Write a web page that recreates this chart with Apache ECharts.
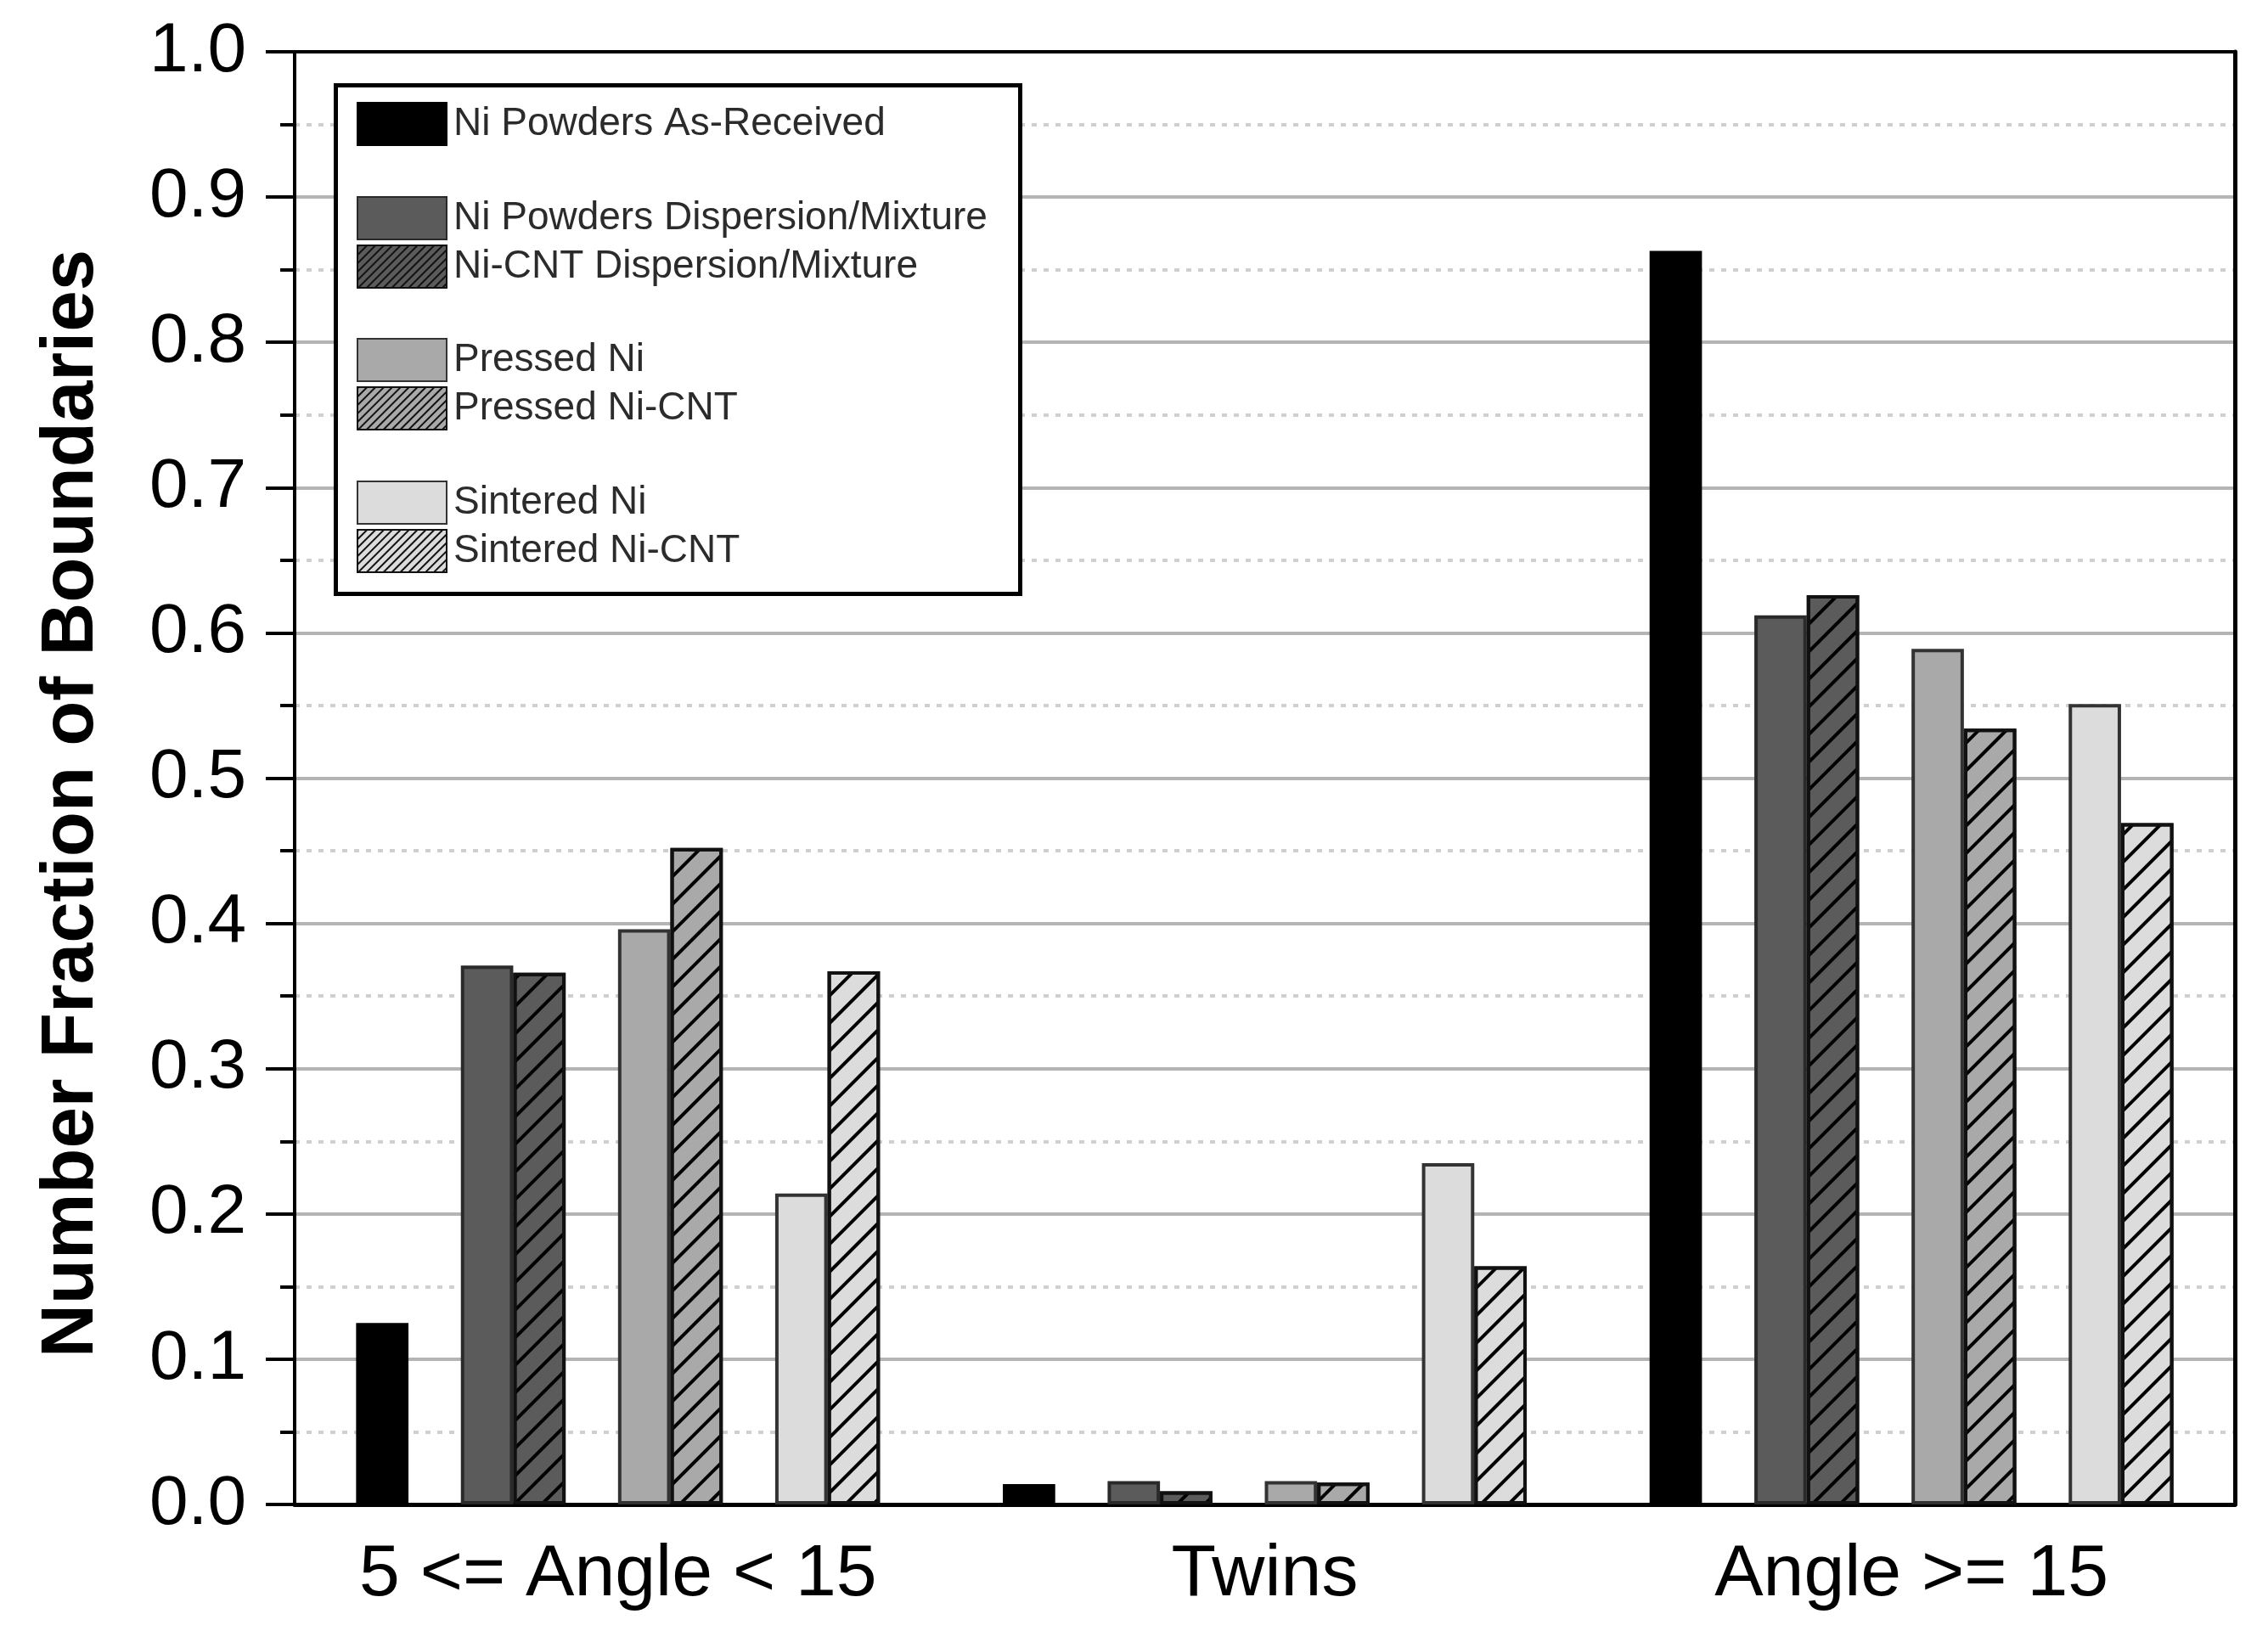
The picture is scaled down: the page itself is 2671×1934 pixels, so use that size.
<!DOCTYPE html>
<html>
<head>
<meta charset="utf-8">
<script src="https://cdn.jsdelivr.net/npm/echarts@6/dist/echarts.min.js"></script>
<style>
html,body{margin:0;padding:0;background:#fff;}
#chart{width:2671px;height:1934px;}
</style>
</head>
<body>
<div id="chart"></div>
<script>
const categories = ['5 <= Angle < 15', 'Twins', 'Angle >= 15'];
const seriesNames = ['Ni Powders As-Received', 'Ni Powders Dispersion/Mixture', 'Ni-CNT Dispersion/Mixture', 'Pressed Ni', 'Pressed Ni-CNT', 'Sintered Ni', 'Sintered Ni-CNT'];
const asReceived = [0.125, 0.014, 0.863];
const powderMix = [0.371, 0.016, 0.612];
const cntMix = [0.366, 0.009, 0.626];
const pressedNi = [0.396, 0.016, 0.589];
const pressedCnt = [0.452, 0.015, 0.534];
const sinteredNi = [0.214, 0.235, 0.551];
const sinteredCnt = [0.367, 0.164, 0.469];
const yTicks = [0, 0.1, 0.2, 0.3, 0.4, 0.5, 0.6, 0.7, 0.8, 0.9, 1.0];

const FONT = 'Liberation Sans';
const hatch = {symbol: 'rect', symbolSize: 1, dashArrayX: [1, 0], dashArrayY: [4, 19], rotation: -Math.PI / 4, color: '#000'};
const hatchSmall = {symbol: 'rect', symbolSize: 1, dashArrayX: [1, 0], dashArrayY: [2, 5], rotation: -Math.PI / 4, color: '#111'};

function barSeries(name, data, color, hatched, border) {
  return {
    name: name, type: 'bar', data: data, barGap: 0, barCategoryGap: '19%',
    itemStyle: {color: color, borderColor: border, borderWidth: 4, decal: hatched ? hatch : null}
  };
}
function spacer(id) {
  return {name: id, type: 'bar', data: categories.map(() => null), barGap: 0, barCategoryGap: '19%', silent: true};
}

const chart = echarts.init(document.getElementById('chart'), null, {renderer: 'canvas'});
const legendBase = {
  orient: 'vertical', left: 420, padding: 0, itemWidth: 105, itemHeight: 50, itemGap: 5,
  icon: 'rect', selectedMode: false, z: 10,
  textStyle: {fontFamily: FONT, fontSize: 46, color: '#2b2b2b', padding: [0, 0, 0, 3]}
};
function legendItem(name, hatched) {
  return hatched ? {name: name, itemStyle: {decal: hatchSmall}} : {name: name};
}

chart.setOption({
  backgroundColor: '#fff',
  animation: false,
  grid: {left: 347, right: 39, top: 61, bottom: 162, containLabel: false},
  legend: [
    Object.assign({}, legendBase, {top: 120, data: [legendItem(seriesNames[0], false)]}),
    Object.assign({}, legendBase, {top: 231, data: [legendItem(seriesNames[1], false), legendItem(seriesNames[2], true)]}),
    Object.assign({}, legendBase, {top: 398, data: [legendItem(seriesNames[3], false), legendItem(seriesNames[4], true)]}),
    Object.assign({}, legendBase, {top: 566, data: [legendItem(seriesNames[5], false), legendItem(seriesNames[6], true)]})
  ],
  graphic: [{
    type: 'rect', left: 393, top: 98, z: 5,
    shape: {width: 806, height: 599},
    style: {fill: '#fff', stroke: '#000', lineWidth: 5}
  }],
  xAxis: [{
    type: 'category', data: categories, position: 'bottom',
    axisTick: {show: false},
    axisLine: {lineStyle: {color: '#000', width: 5}},
    axisLabel: {fontFamily: FONT, fontSize: 86, color: '#000', margin: 40, interval: 0}
  }, {
    type: 'category', data: categories, position: 'top',
    axisTick: {show: false}, axisLabel: {show: false},
    axisLine: {show: true, onZero: false, lineStyle: {color: '#000', width: 4}}, z: 5
  }],
  yAxis: [{
    type: 'value', min: 0, max: 1, interval: 0.1,
    name: 'Number Fraction of Boundaries', nameLocation: 'middle', nameRotate: 90, nameGap: 218,
    nameTextStyle: {fontFamily: FONT, fontSize: 87, fontWeight: 'bold', color: '#000', padding: [0, 60, 0, 0]},
    axisLine: {show: true, lineStyle: {color: '#000', width: 4}},
    axisTick: {show: true, inside: false, length: 34, lineStyle: {color: '#000', width: 4}},
    minorTick: {show: true, splitNumber: 2, length: 17, lineStyle: {color: '#000', width: 4}},
    axisLabel: {fontFamily: FONT, fontSize: 82, color: '#000', margin: 57,
      formatter: v => yTicks.some(t => Math.abs(t - v) < 1e-9) ? v.toFixed(1) : ''},
    splitLine: {show: true, lineStyle: {color: '#b4b4b4', width: 4}},
    minorSplitLine: {show: true, lineStyle: {color: '#cfcfcf', width: 4, type: [6, 8]}}
  }, {
    type: 'value', min: 0, max: 1, interval: 0.1, position: 'right',
    axisLine: {show: true, onZero: false, lineStyle: {color: '#000', width: 5}},
    axisTick: {show: false}, axisLabel: {show: false}, splitLine: {show: false}
  }],
  series: [
    barSeries(seriesNames[0], asReceived, '#000000', false, '#000'),
    spacer('gap1'),
    barSeries(seriesNames[1], powderMix, '#5b5b5b', false, '#2a2a2a'),
    barSeries(seriesNames[2], cntMix, '#5b5b5b', true, '#111'),
    spacer('gap2'),
    barSeries(seriesNames[3], pressedNi, '#a9a9a9', false, '#333'),
    barSeries(seriesNames[4], pressedCnt, '#a9a9a9', true, '#111'),
    spacer('gap3'),
    barSeries(seriesNames[5], sinteredNi, '#dcdcdc', false, '#333'),
    barSeries(seriesNames[6], sinteredCnt, '#dcdcdc', true, '#111')
  ]
});
</script>
</body>
</html>
